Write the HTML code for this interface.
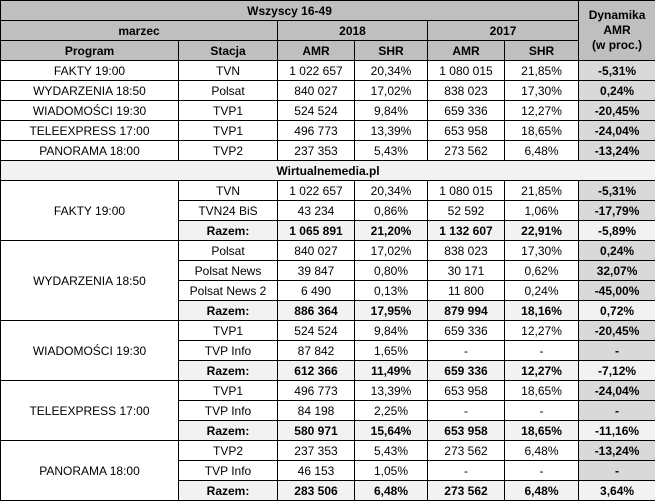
<!DOCTYPE html>
<html><head><meta charset="utf-8"><style>
body{margin:0;background:#fff}
table{border-collapse:collapse;table-layout:fixed;width:655px;font-family:"Liberation Sans",Arial,sans-serif;font-size:12px;color:#000}
td{border:1px solid #000;height:19px;padding:0;text-align:center;vertical-align:middle;white-space:nowrap;overflow:hidden}
tr{height:20px}
.h{background:#bfbfbf;font-weight:bold}
.d{background:#d9d9d9;font-weight:bold}
.r td{background:#f2f2f2;font-weight:bold}
.w{background:#f2f2f2;font-weight:bold}
</style></head><body>
<table>
<colgroup><col style="width:178px"><col style="width:99px"><col style="width:77px"><col style="width:73px"><col style="width:77px"><col style="width:74px"><col style="width:77px"></colgroup>
<tr><td class="h" colspan="6">Wszyscy 16-49</td><td class="h" rowspan="3" style="line-height:15px">Dynamika<br>AMR<br>(w proc.)</td></tr>
<tr><td class="h" colspan="2">marzec</td><td class="h" colspan="2">2018</td><td class="h" colspan="2">2017</td></tr>
<tr><td class="h">Program</td><td class="h">Stacja</td><td class="h">AMR</td><td class="h">SHR</td><td class="h">AMR</td><td class="h">SHR</td></tr>
<tr><td>FAKTY 19:00</td><td>TVN</td><td>1 022 657</td><td>20,34%</td><td>1 080 015</td><td>21,85%</td><td class="d">-5,31%</td></tr>
<tr><td>WYDARZENIA 18:50</td><td>Polsat</td><td>840 027</td><td>17,02%</td><td>838 023</td><td>17,30%</td><td class="d">0,24%</td></tr>
<tr><td>WIADOMOŚCI 19:30</td><td>TVP1</td><td>524 524</td><td>9,84%</td><td>659 336</td><td>12,27%</td><td class="d">-20,45%</td></tr>
<tr><td>TELEEXPRESS 17:00</td><td>TVP1</td><td>496 773</td><td>13,39%</td><td>653 958</td><td>18,65%</td><td class="d">-24,04%</td></tr>
<tr><td>PANORAMA 18:00</td><td>TVP2</td><td>237 353</td><td>5,43%</td><td>273 562</td><td>6,48%</td><td class="d">-13,24%</td></tr>
<tr><td class="w" colspan="7">Wirtualnemedia.pl</td></tr>
<tr><td rowspan="3">FAKTY 19:00</td><td>TVN</td><td>1 022 657</td><td>20,34%</td><td>1 080 015</td><td>21,85%</td><td class="d">-5,31%</td></tr>
<tr><td>TVN24 BiS</td><td>43 234</td><td>0,86%</td><td>52 592</td><td>1,06%</td><td class="d">-17,79%</td></tr>
<tr class="r"><td>Razem:</td><td>1 065 891</td><td>21,20%</td><td>1 132 607</td><td>22,91%</td><td>-5,89%</td></tr>
<tr><td rowspan="4">WYDARZENIA 18:50</td><td>Polsat</td><td>840 027</td><td>17,02%</td><td>838 023</td><td>17,30%</td><td class="d">0,24%</td></tr>
<tr><td>Polsat News</td><td>39 847</td><td>0,80%</td><td>30 171</td><td>0,62%</td><td class="d">32,07%</td></tr>
<tr><td>Polsat News 2</td><td>6 490</td><td>0,13%</td><td>11 800</td><td>0,24%</td><td class="d">-45,00%</td></tr>
<tr class="r"><td>Razem:</td><td>886 364</td><td>17,95%</td><td>879 994</td><td>18,16%</td><td>0,72%</td></tr>
<tr><td rowspan="3">WIADOMOŚCI 19:30</td><td>TVP1</td><td>524 524</td><td>9,84%</td><td>659 336</td><td>12,27%</td><td class="d">-20,45%</td></tr>
<tr><td>TVP Info</td><td>87 842</td><td>1,65%</td><td>-</td><td>-</td><td class="d">-</td></tr>
<tr class="r"><td>Razem:</td><td>612 366</td><td>11,49%</td><td>659 336</td><td>12,27%</td><td>-7,12%</td></tr>
<tr><td rowspan="3">TELEEXPRESS 17:00</td><td>TVP1</td><td>496 773</td><td>13,39%</td><td>653 958</td><td>18,65%</td><td class="d">-24,04%</td></tr>
<tr><td>TVP Info</td><td>84 198</td><td>2,25%</td><td>-</td><td>-</td><td class="d">-</td></tr>
<tr class="r"><td>Razem:</td><td>580 971</td><td>15,64%</td><td>653 958</td><td>18,65%</td><td>-11,16%</td></tr>
<tr><td rowspan="3">PANORAMA 18:00</td><td>TVP2</td><td>237 353</td><td>5,43%</td><td>273 562</td><td>6,48%</td><td class="d">-13,24%</td></tr>
<tr><td>TVP Info</td><td>46 153</td><td>1,05%</td><td>-</td><td>-</td><td class="d">-</td></tr>
<tr class="r"><td>Razem:</td><td>283 506</td><td>6,48%</td><td>273 562</td><td>6,48%</td><td>3,64%</td></tr>
</table>
</body></html>
